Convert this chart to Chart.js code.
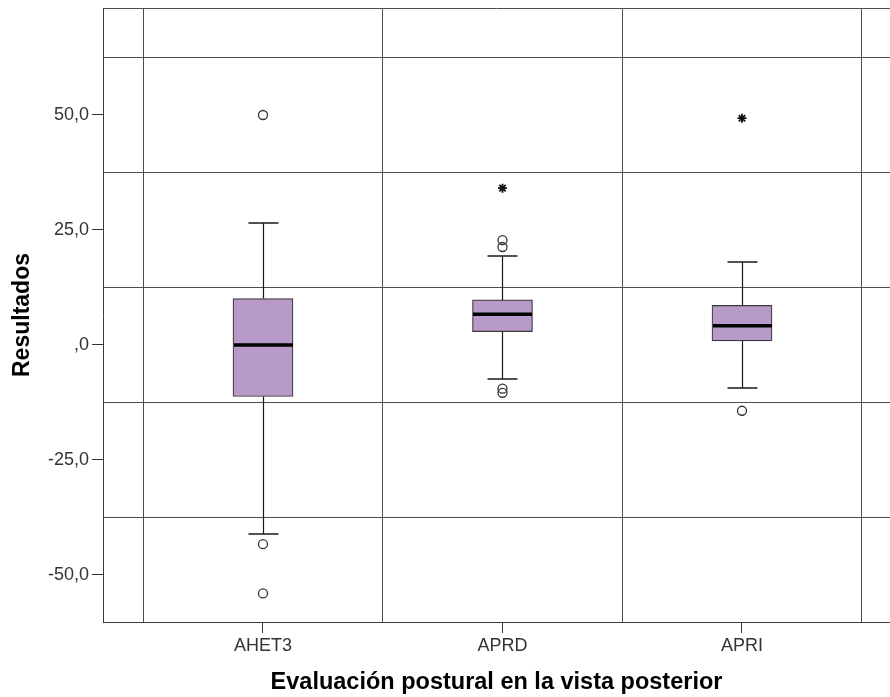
<!DOCTYPE html>
<html>
<head>
<meta charset="utf-8">
<script src="https://cdn.jsdelivr.net/npm/chart.js@4.4.1/dist/chart.umd.min.js"></script>
<style>
  html, body { margin: 0; padding: 0; background: #fff; overflow: hidden; }
  #wrap { width: 890px; height: 697px; position: relative; }
</style>
</head>
<body>
<div id="wrap"><canvas id="chart"></canvas></div>
<script>
const categories  = ['AHET3', 'APRD', 'APRI'];
const whiskerLow  = [-41.1, -7.4, -9.4];
const q1          = [-11.2, 2.9, 0.9];
const median      = [0.0, 6.7, 4.2];
const q3          = [10.1, 9.8, 8.6];
const whiskerHigh = [26.6, 19.3, 18.0];
const outliers    = [[50.0, -43.3, -54.0], [22.8, 21.3, -9.5, -10.4], [-14.3]];
const extremes    = [[], [34.1], [49.3]];

const yTickValues = [-50, -25, 0, 25, 50];
const yTickLabels = ['-50,0', '-25,0', ',0', '25,0', '50,0'];
const yGridValues = [-37.5, -12.5, 12.5, 37.5, 62.5];
const xGridValues = [-0.5, 0.5, 1.5, 2.5];

const FONT = "'Liberation Sans', Arial, sans-serif";
const GRID = '#4d4d4d';

const isMajorY = v => yTickValues.includes(v);
const isMajorX = v => Number.isInteger(v);

// bigotes, topes y mediana dibujados con las escalas del gráfico
const boxPlot = {
  id: 'boxPlot',
  beforeDatasetsDraw(chart) {
    const { ctx, chartArea } = chart;
    ctx.save();
    ctx.strokeStyle = GRID;
    ctx.lineWidth = 1;
    ctx.beginPath();
    ctx.moveTo(chartArea.left, chartArea.top + 0.5);
    ctx.lineTo(chartArea.right, chartArea.top + 0.5);
    ctx.stroke();
    ctx.restore();
  },
  afterDatasetsDraw(chart) {
    const { ctx } = chart;
    const x = chart.scales.x, y = chart.scales.y;
    ctx.save();
    categories.forEach((c, i) => {
      const cx = Math.round(x.getPixelForValue(i)) + 0.5;
      const yq1 = y.getPixelForValue(q1[i]);
      const yq3 = y.getPixelForValue(q3[i]);
      const ylo = Math.round(y.getPixelForValue(whiskerLow[i]));
      const yhi = Math.round(y.getPixelForValue(whiskerHigh[i]));
      ctx.strokeStyle = '#1a1a1a';
      ctx.lineWidth = 1.2;
      ctx.beginPath();
      ctx.moveTo(cx, yq3); ctx.lineTo(cx, yhi);
      ctx.moveTo(cx, yq1); ctx.lineTo(cx, ylo);
      ctx.stroke();
      ctx.lineWidth = 1.6;
      ctx.beginPath();
      ctx.moveTo(cx - 15, yhi); ctx.lineTo(cx + 15, yhi);
      ctx.moveTo(cx - 15, ylo); ctx.lineTo(cx + 15, ylo);
      ctx.stroke();
      // mediana
      const ym = y.getPixelForValue(median[i]);
      ctx.strokeStyle = '#000';
      ctx.lineWidth = 3.5;
      ctx.beginPath();
      ctx.moveTo(cx - 29.5, ym); ctx.lineTo(cx + 29.5, ym);
      ctx.stroke();
    });
    ctx.restore();
  }
};

const boxData     = categories.map((c, i) => ({ x: i, y: [q1[i], q3[i]] }));
const outlierData = outliers.flatMap((vals, i) => vals.map(v => ({ x: i, y: v })));
const extremeData = extremes.flatMap((vals, i) => vals.map(v => ({ x: i, y: v })));

new Chart(document.getElementById('chart'), {
  type: 'scatter',
  data: {
    datasets: [
      {
        type: 'bar',
        data: boxData,
        backgroundColor: '#b79ac7',
        borderColor: '#3a3a3a',
        borderWidth: 1.2,
        borderSkipped: false,
        barThickness: 60,
        order: 3
      },
      {
        type: 'scatter',
        data: outlierData,
        pointStyle: 'circle',
        pointRadius: 4.5,
        pointBorderWidth: 1.3,
        pointBorderColor: '#333',
        pointBackgroundColor: 'rgba(255,255,255,0)',
        order: 1
      },
      {
        type: 'scatter',
        data: extremeData,
        pointStyle: 'star',
        pointRadius: 4.5,
        pointBorderWidth: 1.8,
        pointBorderColor: '#111',
        order: 1
      }
    ]
  },
  options: {
    responsive: true,
    maintainAspectRatio: false,
    animation: false,
    layout: { autoPadding: false, padding: { top: 8, right: 0, bottom: 0, left: 0 } },
    plugins: { legend: { display: false }, tooltip: { enabled: false } },
    scales: {
      x: {
        type: 'linear',
        min: -0.668,
        max: 2.618,
        offset: false,
        afterBuildTicks: s => {
          s.ticks = [...xGridValues, 0, 1, 2].sort((a, b) => a - b).map(v => ({ value: v }));
        },
        afterFit: s => { s.height = 75; s.paddingLeft = 0; s.paddingRight = 0; },
        ticks: {
          autoSkip: false,
          maxRotation: 0,
          padding: 2,
          color: '#333',
          font: { family: FONT, size: 18 },
          callback: v => isMajorX(v) ? categories[v] : ''
        },
        grid: {
          offset: false,
          drawTicks: true,
          tickLength: 11,
          lineWidth: 1,
          color: c => isMajorX(c.tick.value) ? 'rgba(0,0,0,0)' : GRID,
          tickColor: c => isMajorX(c.tick.value) ? '#333' : 'rgba(0,0,0,0)'
        },
        border: { display: true, color: '#3a3a3a', width: 1 },
        title: {
          display: true,
          text: 'Evaluación postural en la vista posterior',
          color: '#000',
          font: { family: FONT, size: 23.5, weight: 'bold' },
          padding: { top: 0, bottom: 0 }
        }
      },
      y: {
        type: 'linear',
        min: -60.22,
        max: 73.26,
        afterBuildTicks: s => {
          s.ticks = [...yTickValues, ...yGridValues].sort((a, b) => a - b).map(v => ({ value: v }));
        },
        afterFit: s => { s.width = 103; s.paddingTop = 0; s.paddingBottom = 0; },
        ticks: {
          autoSkip: false,
          padding: 3,
          color: '#333',
          font: { family: FONT, size: 18 },
          callback: v => isMajorY(v) ? yTickLabels[yTickValues.indexOf(v)] : ''
        },
        grid: {
          drawTicks: true,
          tickLength: 11,
          lineWidth: 1,
          color: c => isMajorY(c.tick.value) ? 'rgba(0,0,0,0)' : GRID,
          tickColor: c => isMajorY(c.tick.value) ? '#333' : 'rgba(0,0,0,0)'
        },
        border: { display: true, color: '#3a3a3a', width: 1 },
        title: {
          display: true,
          text: 'Resultados',
          color: '#000',
          font: { family: FONT, size: 23, weight: 'bold' },
          padding: { top: 9, bottom: 0 }
        }
      }
    }
  },
  plugins: [boxPlot]
});
</script>
</body>
</html>
